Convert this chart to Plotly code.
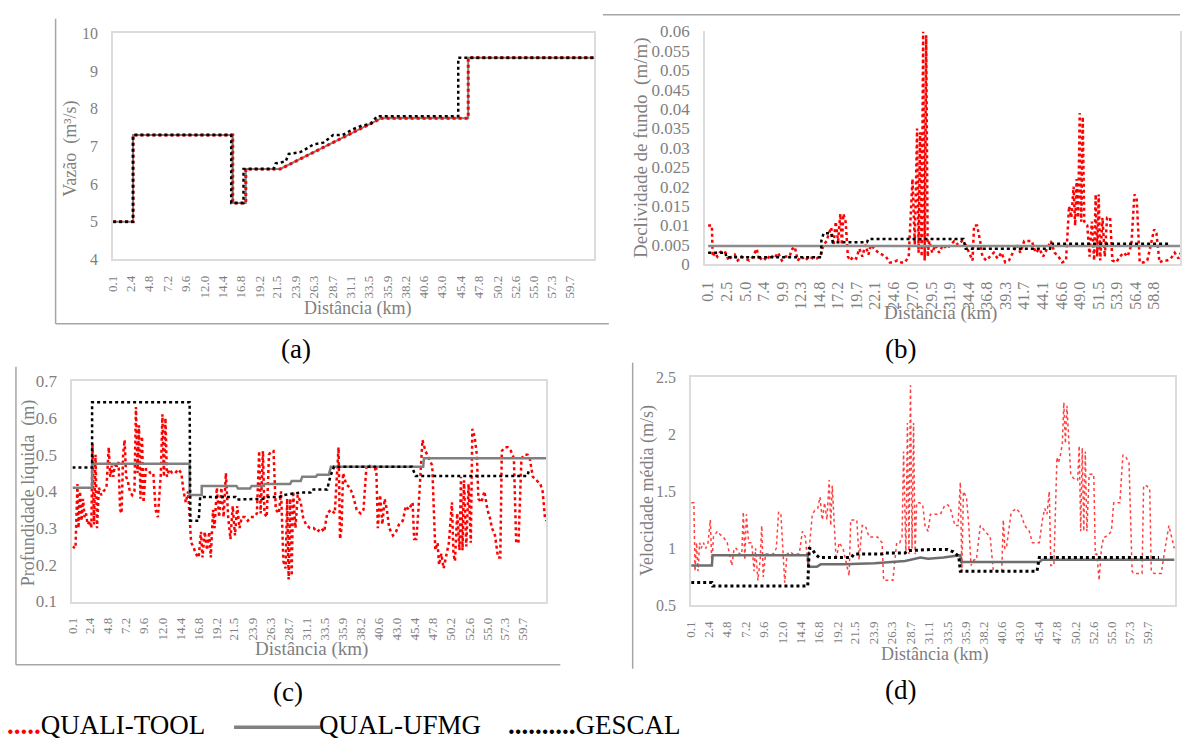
import plotly.graph_objects as go

W, H = 1182, 746
SERIF = "'Liberation Serif', 'Times New Roman', Times, 'DejaVu Serif', serif"
TICK = "#7f7f7f"
BORDER = "#dcdcdc"
RED = "#ff0000"
GRAY = "#808080"
BLACK = "#000000"

def px(x):
    return x / W

def py(y):
    return 1 - y / H

# ---------------- tick labels ----------------
labels_acd = ["0.1", "2.4", "4.8", "7.2", "9.6", "12.0", "14.4", "16.8", "19.2", "21.5", "23.9",
              "26.3", "28.7", "31.1", "33.5", "35.9", "38.2", "40.6", "43.0", "45.4", "47.8",
              "50.2", "52.6", "55.0", "57.3", "59.7"]
labels_b = ["0.1", "2.5", "5.0", "7.4", "9.9", "12.3", "14.8", "17.2", "19.7", "22.1", "24.6",
            "27.0", "29.5", "31.9", "34.4", "36.8", "39.3", "41.7", "44.1", "46.6", "49.0",
            "51.5", "53.9", "56.4", "58.8"]
ylab_b = ["0", "0.005", "0.01", "0.015", "0.02", "0.025", "0.03", "0.035", "0.04", "0.045",
          "0.05", "0.055", "0.06"]

# ---------------- (a) Vazao ----------------
a_quali = [(0.1, 5.0), (2.7, 5.0), (2.7, 7.3), (15.7, 7.3), (15.7, 5.5), (17.4, 5.5), (17.4, 6.4),
           (21.9, 6.4), (35.1, 7.75), (46.4, 7.75), (46.4, 9.35), (62.8, 9.35)]
a_ufmg = [(0.1, 5.0), (2.7, 5.0), (2.7, 7.3), (15.7, 7.3), (15.7, 5.5), (17.4, 5.5), (17.4, 6.4),
          (21.9, 6.4), (35.1, 7.75), (46.4, 7.75), (46.4, 9.35), (62.8, 9.35)]
a_gescal = [(0.1, 5.0), (2.7, 5.0), (2.7, 7.3), (15.5, 7.3), (15.5, 5.5), (17.1, 5.5), (17.1, 6.4),
            (21.0, 6.4), (21.3, 6.55), (22.6, 6.6), (23.0, 6.8), (24.5, 6.85), (25.0, 6.9),
            (26.2, 7.05), (27.5, 7.1), (28.8, 7.3), (30.0, 7.3), (31.3, 7.45), (32.5, 7.55),
            (33.7, 7.6), (34.5, 7.8), (45.1, 7.8), (45.1, 9.35), (62.8, 9.35)]

# ---------------- (b) Declividade ----------------
b_quali = [(0.1, 0.010), (0.6, 0.010), (0.7, 0.002), (1.0, 0.003), (1.3, 0.002), (1.6, 0.003),
           (2.0, 0.0035), (2.4, 0.003), (2.8, 0.001), (3.2, 0.002), (3.6, 0.0025), (4.0, 0.001),
           (4.5, 0.002), (5.0, 0.0015), (5.5, 0.001), (6.0, 0.002), (6.5, 0.004), (6.8, 0.001),
           (7.3, 0.002), (7.8, 0.001), (8.3, 0.0025), (8.8, 0.0015), (9.3, 0.003), (9.8, 0.001),
           (10.3, 0.002), (10.8, 0.002), (11.2, 0.004), (11.5, 0.0045), (11.9, 0.001),
           (12.4, 0.002), (12.9, 0.001), (13.4, 0.002), (13.9, 0.0015), (14.4, 0.0015),
           (14.9, 0.0025), (15.3, 0.005), (15.7, 0.006), (16.0, 0.008), (16.3, 0.0095),
           (16.6, 0.005), (16.9, 0.011), (17.2, 0.006), (17.5, 0.013), (17.7, 0.005),
           (17.9, 0.013), (18.2, 0.011), (18.5, 0.002), (18.8, 0.001), (19.2, 0.002),
           (19.6, 0.0015), (20.0, 0.004), (20.4, 0.002), (20.8, 0.005), (21.2, 0.0025),
           (21.5, 0.005), (22.0, 0.004), (22.5, 0.003), (23.0, 0.0025), (23.5, 0.002),
           (24.0, 0.0005), (24.5, 0.0005), (25.0, 0.001), (25.5, 0.0005), (26.0, 0.0005),
           (26.5, 0.002), (27.0, 0.022), (27.3, 0.005), (27.6, 0.035), (27.8, 0.003),
           (28.0, 0.034), (28.2, 0.002), (28.4, 0.060), (28.6, 0.001), (28.8, 0.059),
           (29.0, 0.002), (29.2, 0.006), (29.6, 0.003), (30.0, 0.005), (30.5, 0.003),
           (31.0, 0.005), (31.5, 0.004), (32.0, 0.005), (32.5, 0.006), (33.0, 0.005),
           (33.5, 0.006), (34.0, 0.005), (34.5, 0.003), (34.9, 0.001), (35.1, 0.010),
           (35.5, 0.010), (35.9, 0.006), (36.2, 0.002), (36.7, 0.001), (37.2, 0.002),
           (37.7, 0.003), (38.2, 0.0015), (38.7, 0.003), (39.2, 0.0005), (39.7, 0.001),
           (40.2, 0.003), (40.7, 0.005), (41.2, 0.003), (41.7, 0.006), (42.2, 0.006),
           (42.7, 0.006), (43.2, 0.003), (43.7, 0.004), (44.2, 0.002), (44.7, 0.004),
           (45.2, 0.006), (45.7, 0.003), (46.2, 0.002), (46.7, 0.0005), (47.2, 0.001),
           (47.6, 0.015), (47.9, 0.012), (48.2, 0.020), (48.4, 0.010), (48.6, 0.022),
           (48.8, 0.012), (49.0, 0.039), (49.2, 0.011), (49.4, 0.038), (49.6, 0.011),
           (50.0, 0.010), (50.3, 0.002), (50.6, 0.011), (50.9, 0.001), (51.1, 0.018),
           (51.3, 0.002), (51.5, 0.018), (51.7, 0.001), (52.0, 0.012), (52.3, 0.002),
           (52.6, 0.012), (53.0, 0.012), (53.3, 0.001), (53.8, 0.0005), (54.3, 0.002),
           (54.8, 0.003), (55.3, 0.002), (55.8, 0.005), (56.2, 0.018), (56.5, 0.017),
           (56.9, 0.0005), (57.4, 0.0005), (57.9, 0.001), (58.4, 0.006), (58.8, 0.009),
           (59.1, 0.008), (59.5, 0.0005), (60.0, 0.001), (60.5, 0.001), (61.0, 0.0015),
           (61.5, 0.003), (62.0, 0.0015), (62.3, 0.003)]
b_ufmg = [(0.1, 0.0047), (62.3, 0.0047)]
b_gescal = [(0.1, 0.003), (2.4, 0.003), (2.5, 0.0018), (15.0, 0.0018), (15.0, 0.006), (15.3, 0.008),
            (16.3, 0.008), (16.5, 0.0057), (21.0, 0.0057), (21.2, 0.0065), (33.7, 0.0065),
            (34.0, 0.004), (45.1, 0.004), (45.3, 0.0053), (60.8, 0.0053)]

# ---------------- (c) Profundidade ----------------
c_quali = [(0.1, 0.25), (0.5, 0.245), (0.76, 0.42), (0.9, 0.30), (1.1, 0.40), (1.3, 0.32), (1.5, 0.38),
           (1.7, 0.33), (1.9, 0.34), (2.1, 0.31), (2.4, 0.32), (2.6, 0.30), (2.75, 0.53), (2.95, 0.31),
           (3.15, 0.50), (3.35, 0.30), (3.6, 0.41), (3.9, 0.39), (4.2, 0.40), (4.6, 0.41), (4.9, 0.52),
           (5.1, 0.44), (5.3, 0.47), (5.5, 0.44), (5.7, 0.47), (6.0, 0.47), (6.2, 0.48), (6.4, 0.35),
           (6.6, 0.34), (6.8, 0.50), (7.0, 0.54), (7.2, 0.44), (7.4, 0.43), (7.7, 0.40), (8.0, 0.39),
           (8.3, 0.40), (8.5, 0.63), (8.7, 0.45), (8.9, 0.58), (9.1, 0.38), (9.3, 0.55), (9.5, 0.37),
           (9.8, 0.46), (10.1, 0.46), (10.4, 0.45), (10.8, 0.45), (11.1, 0.35), (11.4, 0.33),
           (11.8, 0.45), (12.0, 0.61), (12.2, 0.44), (12.4, 0.60), (12.6, 0.44), (12.9, 0.46),
           (13.3, 0.45), (13.7, 0.45), (14.1, 0.46), (14.5, 0.45), (14.8, 0.40), (15.1, 0.37),
           (15.4, 0.40), (15.8, 0.26), (16.1, 0.25), (16.4, 0.23), (16.8, 0.22), (17.1, 0.29),
           (17.3, 0.22), (17.6, 0.29), (17.9, 0.24), (18.2, 0.29), (18.4, 0.22), (18.7, 0.35),
           (18.9, 0.30), (19.2, 0.41), (19.5, 0.33), (19.8, 0.41), (20.1, 0.33), (20.4, 0.45),
           (20.7, 0.33), (21.0, 0.27), (21.3, 0.36), (21.6, 0.28), (21.9, 0.36), (22.2, 0.30),
           (22.5, 0.33), (22.9, 0.33), (23.3, 0.32), (23.7, 0.33), (24.1, 0.33), (24.5, 0.34),
           (24.8, 0.51), (25.0, 0.34), (25.3, 0.51), (25.5, 0.34), (25.8, 0.33), (26.1, 0.50),
           (26.4, 0.51), (26.7, 0.51), (27.0, 0.35), (27.4, 0.34), (27.7, 0.40), (28.0, 0.21),
           (28.3, 0.19), (28.5, 0.38), (28.7, 0.16), (28.9, 0.38), (29.1, 0.17), (29.3, 0.40),
           (29.6, 0.30), (29.9, 0.39), (30.3, 0.37), (30.6, 0.33), (31.0, 0.31), (31.5, 0.30),
           (32.0, 0.30), (32.5, 0.29), (33.0, 0.30), (33.4, 0.29), (33.8, 0.34), (34.3, 0.35),
           (34.8, 0.34), (35.3, 0.52), (35.5, 0.27), (35.7, 0.30), (35.9, 0.45), (36.3, 0.42),
           (36.8, 0.41), (37.2, 0.39), (37.7, 0.35), (38.2, 0.34), (38.6, 0.35), (39.0, 0.47),
           (39.4, 0.47), (39.9, 0.46), (40.3, 0.46), (40.5, 0.30), (40.8, 0.39), (41.1, 0.31),
           (41.4, 0.38), (41.7, 0.35), (42.0, 0.30), (42.5, 0.28), (42.9, 0.29), (43.3, 0.31),
           (43.8, 0.32), (44.2, 0.36), (44.6, 0.35), (45.1, 0.37), (45.3, 0.27), (45.6, 0.27),
           (45.9, 0.36), (46.4, 0.54), (46.8, 0.51), (47.3, 0.49), (47.7, 0.47), (48.1, 0.24),
           (48.4, 0.26), (48.6, 0.20), (48.9, 0.23), (49.2, 0.19), (49.5, 0.22), (49.9, 0.26),
           (50.3, 0.37), (50.5, 0.23), (50.7, 0.21), (51.0, 0.34), (51.3, 0.24), (51.5, 0.44),
           (51.7, 0.24), (51.9, 0.43), (52.2, 0.25), (52.5, 0.42), (52.8, 0.26), (53.0, 0.57),
           (53.3, 0.55), (53.6, 0.50), (53.8, 0.38), (54.2, 0.37), (54.6, 0.40), (55.0, 0.35),
           (55.3, 0.33), (55.6, 0.30), (56.0, 0.28), (56.4, 0.22), (56.7, 0.22), (56.9, 0.51),
           (57.3, 0.52), (57.7, 0.52), (58.1, 0.51), (58.5, 0.49), (58.8, 0.26), (59.1, 0.26),
           (59.5, 0.49), (59.9, 0.50), (60.3, 0.50), (60.6, 0.49), (61.0, 0.44), (61.5, 0.43),
           (62.0, 0.42), (62.3, 0.40), (62.6, 0.33), (62.8, 0.32)]
c_ufmg = [(0.1, 0.41), (2.7, 0.41), (2.7, 0.475), (15.6, 0.475), (15.6, 0.39), (17.2, 0.39),
          (17.2, 0.415), (21.8, 0.415), (22.0, 0.408), (23.6, 0.408), (23.8, 0.415), (25.3, 0.415),
          (25.5, 0.42), (28.9, 0.42), (29.1, 0.428), (30.3, 0.428), (30.5, 0.44), (32.3, 0.44),
          (32.5, 0.445), (34.0, 0.445), (34.3, 0.467), (46.5, 0.467), (46.6, 0.49), (62.8, 0.49)]
c_gescal = [(0.1, 0.465), (2.7, 0.465), (2.7, 0.643), (15.6, 0.643), (15.7, 0.32), (16.8, 0.32),
            (17.0, 0.385), (21.7, 0.385), (21.9, 0.378), (23.6, 0.378), (24.0, 0.38), (25.5, 0.38),
            (25.8, 0.385), (27.5, 0.385), (28.0, 0.39), (30.3, 0.397), (31.6, 0.397), (31.8, 0.405),
            (33.8, 0.405), (34.2, 0.44), (34.7, 0.467), (45.0, 0.467), (45.5, 0.442), (60.3, 0.442),
            (60.5, 0.46)]

# ---------------- (d) Velocidade ----------------
d_quali = [(0.1, 1.40), (0.45, 1.40), (0.6, 0.80), (0.8, 1.05), (1.0, 0.80), (1.2, 1.05), (1.4, 1.00),
           (1.7, 1.05), (2.0, 1.00), (2.3, 1.05), (2.6, 1.25), (2.8, 0.85), (3.0, 1.10), (3.5, 1.15),
           (3.9, 1.12), (4.3, 1.10), (4.8, 1.05), (5.1, 0.95), (5.4, 0.85), (5.7, 1.00), (6.0, 1.00),
           (6.4, 0.95), (6.7, 0.95), (6.9, 1.32), (7.1, 0.90), (7.3, 1.30), (7.6, 1.05), (8.0, 1.05),
           (8.3, 0.80), (8.5, 1.00), (8.8, 0.72), (9.1, 0.90), (9.3, 1.20), (9.5, 0.75), (9.8, 0.95),
           (10.3, 0.95), (10.8, 0.95), (11.2, 1.00), (11.5, 1.32), (11.8, 1.30), (12.1, 0.90),
           (12.3, 0.70), (12.6, 0.95), (13.0, 0.97), (13.4, 0.95), (13.8, 0.95), (14.2, 0.95),
           (14.6, 1.15), (15.0, 1.10), (15.3, 0.85), (15.6, 1.10), (15.9, 1.30), (16.2, 1.33),
           (16.6, 1.35), (16.9, 1.45), (17.2, 1.25), (17.5, 1.40), (17.8, 1.25), (18.1, 1.60),
           (18.3, 1.20), (18.5, 1.55), (18.8, 1.20), (19.0, 0.90), (19.4, 1.05), (19.9, 1.00),
           (20.3, 0.88), (20.7, 0.76), (20.9, 1.25), (21.3, 1.25), (21.7, 1.25), (22.0, 0.90),
           (22.4, 1.20), (22.8, 1.20), (23.3, 1.10), (23.8, 1.10), (24.4, 1.10), (25.0, 1.05),
           (25.2, 0.72), (25.8, 0.72), (26.4, 0.72), (26.9, 1.05), (27.3, 1.05), (27.6, 1.10),
           (27.8, 1.85), (28.1, 0.95), (28.3, 2.10), (28.5, 0.95), (28.7, 2.43), (28.9, 1.00),
           (29.1, 2.10), (29.3, 0.95), (29.5, 1.40), (29.9, 1.40), (30.3, 1.38), (30.6, 1.20),
           (31.0, 1.15), (31.3, 1.30), (31.8, 1.30), (32.3, 1.30), (32.6, 1.30), (33.2, 1.38),
           (33.6, 1.38), (33.9, 1.35), (34.1, 1.30), (34.5, 1.20), (34.9, 1.20), (35.2, 1.58),
           (35.4, 0.80), (35.6, 1.50), (36.0, 1.45), (36.3, 1.20), (36.6, 0.85), (37.0, 0.90),
           (37.3, 0.90), (37.8, 1.20), (38.1, 1.18), (38.4, 1.15), (39.1, 1.10), (39.5, 0.80),
           (39.9, 0.80), (40.3, 0.80), (40.6, 0.80), (40.8, 1.25), (41.0, 1.00), (41.2, 1.00),
           (41.8, 1.30), (42.1, 1.33), (42.5, 1.35), (43.1, 1.30), (43.6, 1.20), (44.2, 1.15),
           (44.6, 1.05), (45.0, 1.05), (45.5, 1.05), (45.9, 1.25), (46.2, 1.35), (46.5, 1.30),
           (46.8, 1.50), (47.0, 0.85), (47.4, 0.85), (47.8, 1.80), (48.0, 1.75), (48.2, 1.80),
           (48.5, 1.92), (48.7, 2.28), (48.9, 1.92), (49.1, 2.25), (49.3, 2.00), (49.6, 1.65),
           (49.9, 1.62), (50.2, 1.60), (50.5, 1.60), (50.7, 1.90), (50.9, 1.15), (51.1, 1.88),
           (51.3, 1.15), (51.5, 1.85), (51.7, 1.15), (52.0, 1.65), (52.3, 1.65), (52.6, 1.65),
           (52.8, 0.95), (53.0, 0.95), (53.3, 0.72), (53.6, 1.00), (53.9, 1.10), (54.1, 1.10),
           (54.5, 1.12), (54.9, 1.15), (55.2, 1.40), (55.6, 1.40), (56.0, 1.40), (56.4, 1.82),
           (56.8, 1.80), (57.2, 1.75), (57.6, 0.80), (57.8, 0.78), (58.3, 0.78), (58.9, 0.78),
           (59.1, 1.55), (59.5, 1.55), (59.9, 1.52), (60.1, 0.80), (60.5, 0.78), (61.0, 0.78),
           (61.4, 0.78), (61.9, 1.00), (62.4, 1.20), (63.1, 1.00)]
d_ufmg = [(0.1, 0.85), (2.8, 0.85), (2.9, 0.94), (15.3, 0.94), (15.4, 0.84), (16.5, 0.84), (17.0, 0.86),
          (20.0, 0.86), (24.0, 0.87), (28.0, 0.89), (30.0, 0.92), (31.0, 0.91), (33.0, 0.92),
          (35.2, 0.94), (35.3, 0.88), (45.5, 0.88), (45.9, 0.90), (63.1, 0.90)]
d_gescal = [(0.1, 0.70), (2.8, 0.70), (2.9, 0.67), (15.3, 0.67), (15.5, 1.00), (15.8, 1.00), (16.3, 0.95),
            (16.8, 0.92), (21.0, 0.92), (21.3, 0.95), (25.0, 0.95), (25.3, 0.96), (28.0, 0.96),
            (28.3, 0.98), (31.3, 0.99), (33.5, 0.99), (34.3, 0.97), (35.0, 0.93), (35.2, 0.80),
            (45.2, 0.80), (45.5, 0.92), (61.1, 0.92)]

fig = go.Figure()


def add(series, xa, ya, color, width, dash):
    fig.add_trace(go.Scatter(
        x=[p[0] for p in series], y=[p[1] for p in series], mode="lines",
        line=dict(color=color, width=width, dash=dash),
        xaxis=xa, yaxis=ya, showlegend=False, hoverinfo="skip"))


# panel a
add(a_ufmg, "x", "y", GRAY, 2, "solid")
add(a_quali, "x", "y", RED, 3, "dot")
add(a_gescal, "x", "y", BLACK, 2.5, "dot")
# panel b
add(b_quali, "x2", "y2", RED, 2.5, "dot")
add(b_ufmg, "x2", "y2", "#8c8c8c", 2.5, "solid")
add(b_gescal, "x2", "y2", BLACK, 2.5, "dot")
# panel c
add(c_quali, "x3", "y3", RED, 2.5, "dot")
add(c_ufmg, "x3", "y3", GRAY, 2.5, "solid")
add(c_gescal, "x3", "y3", BLACK, 2.5, "dot")
# panel d
add(d_quali, "x4", "y4", "#ff4040", 1.5, "dot")
add(d_ufmg, "x4", "y4", "#6e6e6e", 2.5, "solid")
add(d_gescal, "x4", "y4", BLACK, 3, "dot")


def xax(x0, x1, rng, labels, anchor, fs):
    return dict(domain=[px(x0), px(x1)], range=rng, tickmode="array",
                tickvals=[float(s) for s in labels], ticktext=labels, tickangle=-90,
                tickfont=dict(family=SERIF, size=fs, color=TICK), showgrid=False,
                zeroline=False, showline=True, linecolor=BORDER, linewidth=2, mirror=True,
                ticks="", ticklabelstandoff=9, anchor=anchor)


def yax(ytop, ybot, rng, vals, texts, anchor, fs):
    return dict(domain=[py(ybot), py(ytop)], range=rng, tickmode="array",
                tickvals=vals, ticktext=texts,
                tickfont=dict(family=SERIF, size=fs, color=TICK), showgrid=False,
                zeroline=False, showline=True, linecolor=BORDER, linewidth=2, mirror=True,
                ticks="", ticklabelstandoff=10, anchor=anchor)


yt_a = [4, 5, 6, 7, 8, 9, 10]
yt_b = [float(s) for s in ylab_b]
yt_c = [0.1, 0.2, 0.3, 0.4, 0.5, 0.6, 0.7]
yt_d = [0.5, 1.0, 1.5, 2.0, 2.5]

fig.update_layout(
    width=W, height=H, margin=dict(l=0, r=0, t=0, b=0),
    paper_bgcolor="white", plot_bgcolor="white",
    font=dict(family=SERIF),
    xaxis=xax(106, 591, [0.1, 62.8], labels_acd, "y", 13),
    yaxis=yax(25, 257, [4, 10], yt_a, [str(v) for v in yt_a], "x", 16),
    xaxis2=xax(703, 1182, [-0.3, 62.2], labels_b, "y2", 16),
    yaxis2=yax(23, 262, [0, 0.06], yt_b, ylab_b, "x2", 17),
    xaxis3=xax(65, 543, [0.1, 62.8], labels_acd, "y3", 13),
    yaxis3=yax(382, 608, [0.1, 0.7], yt_c, [f"{v:.1f}" for v in yt_c], "x3", 17),
    xaxis4=xax(689, 1177, [0.1, 63.2], labels_acd, "y4", 13),
    yaxis4=yax(378, 612, [0.5, 2.5], yt_d, ["0.5", "1", "1.5", "2", "2.5"], "x4", 16),
)
fig.layout.xaxis2.mirror = False

ann = []


def text(x, y, s, size, color, angle=0, xanchor="center"):
    ann.append(dict(x=px(x), y=py(y), xref="paper", yref="paper", text=s, showarrow=False,
                    textangle=angle, xanchor=xanchor, yanchor="middle",
                    font=dict(family=SERIF, size=size, color=color)))


# axis titles
text(63, 143, "Vazão  (m³/s)", 18, TICK, -90)
text(352, 307, "Distância (km)", 18, TICK)
text(639, 142, "Declividade de fundo  (m/m)", 19, TICK, -90)
text(940, 312, "Distância (km)", 19, TICK)
text(21, 497, "Profundidade líquida  (m)", 18, TICK, -90)
text(306, 657, "Distância (km)", 19, TICK)
text(645, 494, "Velocidade média (m/s)", 18, TICK, -90)
text(934, 662, "Distância (km)", 18, TICK)

# captions
text(290, 349, "(a)", 27, BLACK)
text(900, 349, "(b)", 27, BLACK)
text(282, 701, "(c)", 27, BLACK)
text(900, 699, "(d)", 27, BLACK)

# legend line
text(-3, 735, "<b><span style='color:#ff0000'>.....</span></b>QUALI-TOOL", 27, BLACK, xanchor="left")
text(312, 735, "QUAL-UFMG", 27, BLACK, xanchor="left")
text(502, 735, "<b>..........</b>GESCAL", 27, BLACK, xanchor="left")

fig.update_layout(annotations=ann)

shapes = []


def seg(x0, y0, x1, y1, color="#a6a6a6", w=1.5):
    shapes.append(dict(type="line", xref="paper", yref="paper", x0=px(x0), y0=py(y0),
                       x1=px(x1), y1=py(y1), line=dict(color=color, width=w)))


seg(48, 10, 48, 323)
seg(48, 323, 606, 323)
seg(600, 6, 1182, 6)
seg(8, 367, 8, 673)
seg(8, 673, 557, 673)
seg(630, 363, 630, 677)
# legend gray line for QUAL-UFMG
seg(228, 737, 315, 737, "#808080", 3.5)
fig.update_layout(shapes=shapes)

fig.write_html("out.html")
